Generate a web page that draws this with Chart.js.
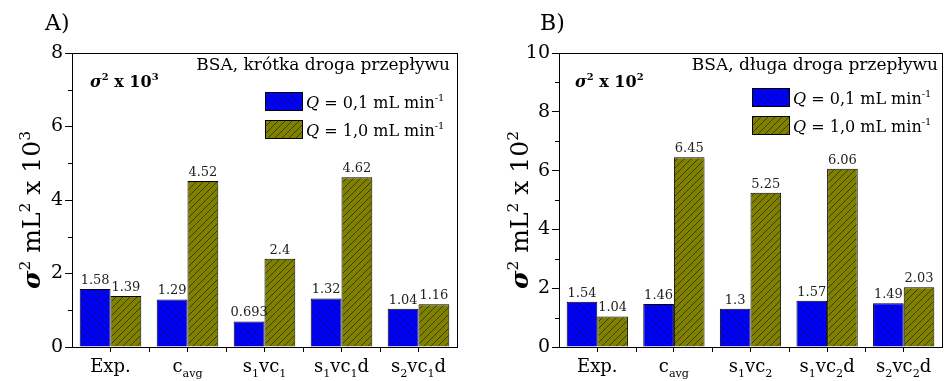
<!DOCTYPE html>
<html>
<head>
  <title>BSA sigma^2</title>
  <style>
    body { margin: 0; background: #fff; }
    #wrap { position: relative; width: 944px; height: 381px; }
    canvas { position: absolute; top: 0; }
  </style>
</head>
<body>
  <div id="wrap">
    <canvas id="chartA" width="472" height="381" style="left:0"></canvas>
    <canvas id="chartB" width="472" height="381" style="left:472px"></canvas>
  </div>

  <script src="https://cdn.jsdelivr.net/npm/chart.js"></script>
  <script>
    // dane
    const categoriesA = ['Exp.', 'c_{avg}', 's_{1}vc_{1}', 's_{1}vc_{1}d', 's_{2}vc_{1}d'];
    const slowA = [1.58, 1.29, 0.693, 1.32, 1.04];   // Q = 0,1 mL/min
    const fastA = [1.39, 4.52, 2.4, 4.62, 1.16];     // Q = 1,0 mL/min
    const yTicksA = [0, 2, 4, 6, 8];

    const categoriesB = ['Exp.', 'c_{avg}', 's_{1}vc_{2}', 's_{1}vc_{2}d', 's_{2}vc_{2}d'];
    const slowB = [1.54, 1.46, 1.3, 1.57, 1.49];
    const fastB = [1.04, 6.45, 5.25, 6.06, 2.03];
    const yTicksB = [0, 2, 4, 6, 8, 10];

    const FONT = "'DejaVu Serif', serif";

    // wzor kreskowania
    function hatch(bg, dir) {
      const c = document.createElement('canvas');
      c.width = 7; c.height = 7;
      const g = c.getContext('2d');
      g.fillStyle = bg;
      g.fillRect(0, 0, 7, 7);
      g.strokeStyle = '#111';
      g.lineWidth = 0.6;
      g.beginPath();
      if (dir > 0) {
        g.moveTo(-1, 8); g.lineTo(8, -1);
      } else {
        g.moveTo(-1, -1); g.lineTo(8, 8);
      }
      g.stroke();
      return g.createPattern(c, 'repeat');
    }
    const bluePattern = hatch('#0000ff', -1);
    const olivePattern = hatch('#808000', 1);

    // tekst z indeksami gornymi / dolnymi
    function parseLabel(s) {
      const segs = [];
      const re = /_\{([^}]*)\}|\^\{([^}]*)\}|([^_^]+)/g;
      let m;
      while ((m = re.exec(s)) !== null) {
        if (m[1] !== undefined) segs.push({ t: m[1], s: 'sub' });
        else if (m[2] !== undefined) segs.push({ t: m[2], s: 'sup' });
        else segs.push({ t: m[3] });
      }
      return segs;
    }

    function segFont(seg, size) {
      const sz = seg.s ? size * 0.62 : size;
      return (seg.it ? 'italic ' : '') + (seg.b ? 'bold ' : '') + sz + 'px ' + FONT;
    }

    function drawRich(ctx, segs, x, y, size, align) {
      let w = 0;
      segs.forEach(seg => { ctx.font = segFont(seg, size); w += ctx.measureText(seg.t).width; });
      let cx = align === 'center' ? x - w / 2 : (align === 'right' ? x - w : x);
      ctx.textAlign = 'left';
      ctx.textBaseline = 'alphabetic';
      segs.forEach(seg => {
        ctx.font = segFont(seg, size);
        let dy = 0;
        if (seg.s === 'sup') dy = -size * 0.42;
        if (seg.s === 'sub') dy = size * 0.3;
        ctx.fillText(seg.t, cx, y + dy);
        cx += ctx.measureText(seg.t).width;
      });
    }

    function makeChart(id, cats, slow, fast, yTicks, opts) {
      const yMax = yTicks[yTicks.length - 1];

      const extras = {
        id: 'extras',
        afterDraw(chart) {
          const ctx = chart.ctx;
          const a = chart.chartArea;
          const xs = chart.scales.x, ys = chart.scales.y;
          ctx.save();
          ctx.fillStyle = '#000';
          ctx.strokeStyle = '#000';
          ctx.lineWidth = 1;

          // ramka
          ctx.strokeRect(Math.round(a.left) + 0.5, Math.round(a.top) + 0.5,
            Math.round(a.right - a.left), Math.round(a.bottom - a.top));

          // male podzialki na osi Y
          ctx.beginPath();
          for (let v = 1; v < yMax; v += 2) {
            const py = Math.round(ys.getPixelForValue(v)) + 0.5;
            ctx.moveTo(a.left - 4, py); ctx.lineTo(a.left, py);
          }
          // podzialki miedzy kategoriami
          for (let i = 0; i < cats.length - 1; i++) {
            const px = Math.round((xs.getPixelForValue(i) + xs.getPixelForValue(i + 1)) / 2) + 0.5;
            ctx.moveTo(px, a.bottom); ctx.lineTo(px, a.bottom + 5);
          }
          ctx.stroke();

          // etykiety kategorii
          cats.forEach((c, i) => {
            drawRich(ctx, parseLabel(c), xs.getPixelForValue(i), 372, 18, 'center');
          });

          // wartosci nad slupkami
          ctx.fillStyle = '#222';
          ctx.font = '13px ' + FONT;
          ctx.textAlign = 'center';
          ctx.textBaseline = 'bottom';
          chart.data.datasets.forEach((ds, di) => {
            chart.getDatasetMeta(di).data.forEach((bar, i) => {
              ctx.fillText(String(ds.data[i]), bar.x, bar.y - 2);
            });
          });

          // tytul osi Y
          ctx.fillStyle = '#000';
          ctx.save();
          ctx.translate(opts.yTitleX, (a.top + a.bottom) / 2 + 10);
          ctx.rotate(-Math.PI / 2);
          drawRich(ctx, [
            { t: 'σ', it: true, b: true },
            { t: '2', s: 'sup' },
            { t: ' mL' },
            { t: '2', s: 'sup' },
            { t: ' x 10' },
            { t: opts.exp, s: 'sup' }
          ], 0, 0, 25, 'center');
          ctx.restore();

          // litera panelu
          ctx.font = '22px ' + FONT;
          ctx.textAlign = 'left';
          ctx.textBaseline = 'alphabetic';
          ctx.fillText(opts.panel, opts.panelX, 30);

          // sigma^2 x 10^n
          drawRich(ctx, [
            { t: 'σ', it: true, b: true },
            { t: '2', s: 'sup', b: true },
            { t: ' x 10', b: true },
            { t: opts.exp, s: 'sup', b: true }
          ], a.left + opts.sigmaDx, 87, 16, 'left');

          // opis serii
          ctx.font = '17px ' + FONT;
          ctx.textAlign = 'right';
          ctx.fillText(opts.title, a.right - opts.titleDx, 70);

          // legenda
          const lx = a.right - opts.legendDx;
          const rows = [
            { fill: bluePattern, txt: '0,1' },
            { fill: olivePattern, txt: '1,0' }
          ];
          rows.forEach((r, k) => {
            const ty = opts.legendY + k * 28;
            ctx.fillStyle = r.fill;
            ctx.fillRect(lx, ty, 37, 18);
            ctx.strokeRect(lx + 0.5, ty + 0.5, 37, 18);
            ctx.fillStyle = '#000';
            drawRich(ctx, [
              { t: 'Q', it: true },
              { t: ' = ' + r.txt + ' mL min' },
              { t: '-1', s: 'sup' }
            ], lx + 41, ty + 16, 16, 'left');
          });
          ctx.restore();
        }
      };

      return new Chart(document.getElementById(id), {
        type: 'bar',
        data: {
          labels: cats,
          datasets: [
            { label: 'Q = 0,1 mL min-1', data: slow, backgroundColor: bluePattern, borderColor: '#000', borderWidth: 1 },
            { label: 'Q = 1,0 mL min-1', data: fast, backgroundColor: olivePattern, borderColor: '#000', borderWidth: 1 }
          ]
        },
        options: {
          responsive: false,
          animation: false,
          layout: { padding: { left: opts.padLeft, right: opts.padRight, top: 53, bottom: 0 } },
          datasets: { bar: { categoryPercentage: 0.8, barPercentage: 1 } },
          plugins: { legend: { display: false }, tooltip: { enabled: false } },
          scales: {
            x: {
              grid: { display: true, drawOnChartArea: false, offset: false, tickLength: 5, color: '#000' },
              border: { color: '#000' },
              ticks: { display: false },
              afterFit(s) { s.height = 34; }
            },
            y: {
              min: yTicks[0],
              max: yMax,
              afterBuildTicks(s) { s.ticks = yTicks.map(v => ({ value: v })); },
              grid: { drawOnChartArea: false, tickLength: 7, color: '#000' },
              border: { color: '#000' },
              ticks: { color: '#000', font: { family: FONT, size: 19 }, padding: 2 },
              afterFit(s) { s.width = 32; }
            }
          }
        },
        plugins: [extras]
      });
    }

    makeChart('chartA', categoriesA, slowA, fastA, yTicksA, {
      padLeft: 40, padRight: 15, yTitleX: 40, panel: 'A)', panelX: 45, exp: '3',
      sigmaDx: 18, title: 'BSA, krótka droga przepływu', titleDx: 7, legendDx: 192, legendY: 92
    });
    makeChart('chartB', categoriesB, slowB, fastB, yTicksB, {
      padLeft: 55, padRight: 2, yTitleX: 56, panel: 'B)', panelX: 68, exp: '2',
      sigmaDx: 16, title: 'BSA, długa droga przepływu', titleDx: 4, legendDx: 190, legendY: 88
    });
  </script>
</body>
</html>
